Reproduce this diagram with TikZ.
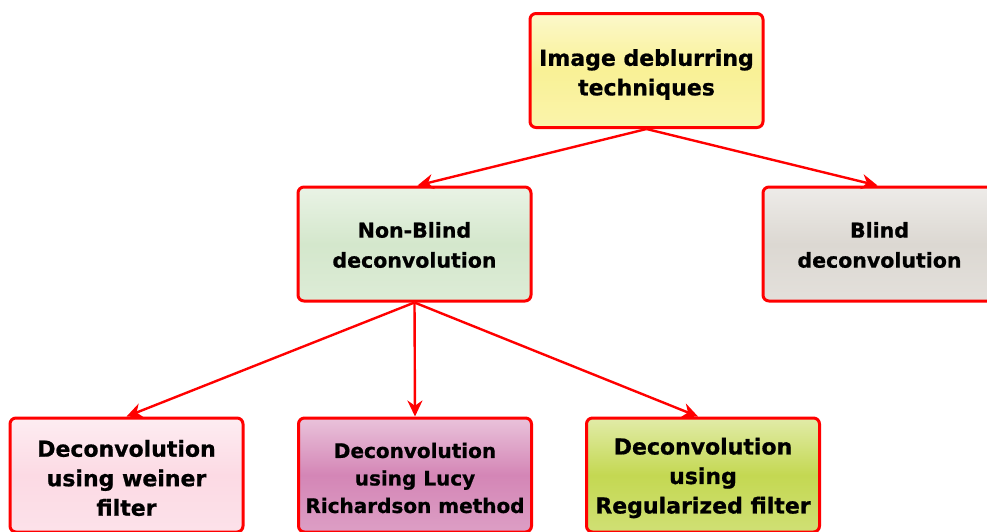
\documentclass[tikz,border=0pt]{standalone}
\usepackage{fontspec}
\setmainfont[BoldFeatures={FakeBold=0.8}]{DejaVu Sans}
\usetikzlibrary{arrows.meta}
\definecolor{ylw}{RGB}{249,241,150}
\definecolor{grn}{RGB}{212,231,204}
\definecolor{gry}{RGB}{220,216,210}
\definecolor{pnk}{RGB}{252,218,228}
\definecolor{mag}{RGB}{212,134,182}
\definecolor{lim}{RGB}{196,216,82}
\definecolor{bord}{RGB}{255,0,0}
\tikzset{
  box/.style n args={1}{draw=bord, line width=3pt, rounded corners=6pt,
    minimum width=233pt, minimum height=114pt, inner sep=0pt,
    top color=#1!50!white, bottom color=#1!80!white, middle color=#1},
  txt/.style={align=center, inner sep=0pt, font=\bfseries\fontsize{22}{29.5}\selectfont},
  midtxt/.style={txt, font=\bfseries\fontsize{20.5}{30}\selectfont},
  conn/.style={draw=bord, line width=2.4pt, -{Stealth[length=16pt,width=15pt]}},
}
\begin{document}
\begin{tikzpicture}[x=1pt,y=-1pt]
\useasboundingbox (0,0) rectangle (987,531);
\fill[white] (0,0) rectangle (987,531);
\node[box=ylw] (top) at (646.5,70.5) {};
\node[box=grn] (nb) at (414.5,244) {};
\node[box=gry] (bl) at (879.5,244) {};
\node[box=pnk] (w) at (126.5,475) {};
\node[box=mag] (lr) at (415,475) {};
\node[box=lim] (rg) at (703,475) {};
\node[txt] (topt) at ([yshift=-4pt]top.center) {Image deblurring\\techniques};
\node[midtxt] (nbt) at ([yshift=-1pt]nb.center) {Non-Blind\\deconvolution};
\node[midtxt] (blt) at ([yshift=-1pt]bl.center) {Blind\\deconvolution};
\node[txt] (wt) at ([yshift=-3pt]w.center) {Deconvolution\\using weiner\\filter};
\node[txt, font=\bfseries\fontsize{20}{27.5}\selectfont] (lrt) at ([yshift=-3pt]lr.center) {Deconvolution\\using Lucy\\Richardson method};
\node[txt] (rgt) at ([yshift=-3pt]rg.center) {Deconvolution\\using\\Regularized filter};
\draw[conn] (top.south) -- ([xshift=3pt]nb.north);
\draw[conn] (top.south) -- ([xshift=-2pt]bl.north);
\draw[conn] (nb.south) -- (w.north);
\draw[conn] (nb.south) -- (lr.north);
\draw[conn] (nb.south) -- ([xshift=-5pt]rg.north);
\end{tikzpicture}
\end{document}
